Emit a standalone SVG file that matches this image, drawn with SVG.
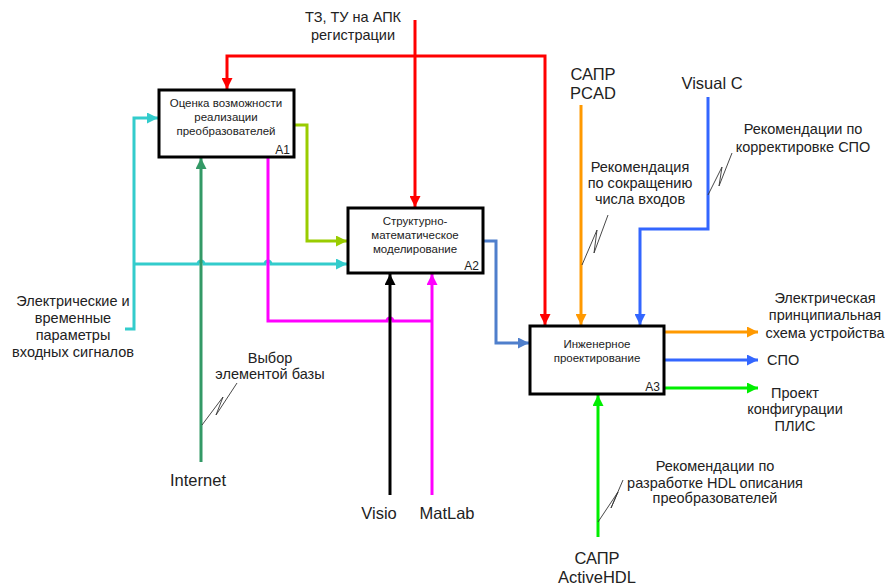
<svg xmlns="http://www.w3.org/2000/svg" width="885" height="588" viewBox="0 0 885 588">
<style>
text{font-family:"Liberation Sans",Arial,sans-serif;fill:#222;text-anchor:middle}
.lbl{font-size:14.5px}
.big{font-size:16.5px}
.bx{font-size:11.5px}
.num{font-size:12px;text-anchor:end}
.box{fill:#fff;stroke:#000;stroke-width:3}
.c{fill:none;stroke-width:3}
.sq{fill:none;stroke:#333;stroke-width:0.9}
</style>
<defs>
<marker id="mRed" viewBox="0 0 10 10" refX="10" refY="5" markerWidth="12" markerHeight="11" markerUnits="userSpaceOnUse" orient="auto"><path d="M0,0 L10,5 L0,10 z" fill="#ff0000"/></marker>
<marker id="mYg" viewBox="0 0 10 10" refX="10" refY="5" markerWidth="12" markerHeight="11" markerUnits="userSpaceOnUse" orient="auto"><path d="M0,0 L10,5 L0,10 z" fill="#99cc00"/></marker>
<marker id="mCy" viewBox="0 0 10 10" refX="10" refY="5" markerWidth="12" markerHeight="11" markerUnits="userSpaceOnUse" orient="auto"><path d="M0,0 L10,5 L0,10 z" fill="#33cccc"/></marker>
<marker id="mDg" viewBox="0 0 10 10" refX="10" refY="5" markerWidth="12" markerHeight="11" markerUnits="userSpaceOnUse" orient="auto"><path d="M0,0 L10,5 L0,10 z" fill="#339966"/></marker>
<marker id="mMg" viewBox="0 0 10 10" refX="10" refY="5" markerWidth="12" markerHeight="11" markerUnits="userSpaceOnUse" orient="auto"><path d="M0,0 L10,5 L0,10 z" fill="#ff00ff"/></marker>
<marker id="mBk" viewBox="0 0 10 10" refX="10" refY="5" markerWidth="12" markerHeight="11" markerUnits="userSpaceOnUse" orient="auto"><path d="M0,0 L10,5 L0,10 z" fill="#000"/></marker>
<marker id="mSb" viewBox="0 0 10 10" refX="10" refY="5" markerWidth="12" markerHeight="11" markerUnits="userSpaceOnUse" orient="auto"><path d="M0,0 L10,5 L0,10 z" fill="#4f7fcc"/></marker>
<marker id="mOr" viewBox="0 0 10 10" refX="10" refY="5" markerWidth="12" markerHeight="11" markerUnits="userSpaceOnUse" orient="auto"><path d="M0,0 L10,5 L0,10 z" fill="#ff9900"/></marker>
<marker id="mBl" viewBox="0 0 10 10" refX="10" refY="5" markerWidth="12" markerHeight="11" markerUnits="userSpaceOnUse" orient="auto"><path d="M0,0 L10,5 L0,10 z" fill="#3366ff"/></marker>
<marker id="mGr" viewBox="0 0 10 10" refX="10" refY="5" markerWidth="12" markerHeight="11" markerUnits="userSpaceOnUse" orient="auto"><path d="M0,0 L10,5 L0,10 z" fill="#00ee00"/></marker>
</defs>

<g id="connectors">
<path class="c" stroke="#ff0000" d="M415,20 V207" marker-end="url(#mRed)"/>
<path class="c" stroke="#ff0000" d="M416,56 H227 V89" marker-end="url(#mRed)"/>
<path class="c" stroke="#ff0000" d="M414,56 H545 V325" marker-end="url(#mRed)"/>
<path class="c" stroke="#99cc00" d="M294,125 H307 V241 H347" marker-end="url(#mYg)"/>
<path class="c" stroke="#33cccc" d="M125,329 H134 V118 H158" marker-end="url(#mCy)"/>
<path class="c" stroke="#33cccc" d="M134,264 H198 a3,3 0 0 1 6,0 H265 a3,3 0 0 1 6,0 H347" marker-end="url(#mCy)"/>
<path class="c" stroke="#339966" d="M201,462 V158" marker-end="url(#mDg)"/>
<path class="c" stroke="#ff00ff" d="M268,158 V321 H387 a3,3 0 0 1 6,0 H433" marker-start="url(#mMg)"/>
<path class="c" stroke="#ff00ff" d="M432,495 V274" marker-end="url(#mMg)"/>
<path class="c" stroke="#000" d="M390,495 V274" marker-end="url(#mBk)"/>
<path class="c" stroke="#4f7fcc" d="M483,241 H496 V343 H529" marker-end="url(#mSb)"/>
<path class="c" stroke="#ff9900" d="M581,105 V325" marker-end="url(#mOr)"/>
<path class="c" stroke="#3366ff" d="M708,97 V229 H640 V325" marker-end="url(#mBl)"/>
<path class="c" stroke="#ff9900" d="M664,332 H758" marker-end="url(#mOr)"/>
<path class="c" stroke="#3366ff" d="M664,360 H758" marker-end="url(#mBl)"/>
<path class="c" stroke="#00ee00" d="M664,388 H758" marker-end="url(#mGr)"/>
<path class="c" stroke="#00ee00" d="M598,537 V395" marker-end="url(#mGr)"/>
<path class="sq" d="M582,265 L597,230 L594,253 L608,215"/>
<path class="sq" d="M708,195 L722,167 L719,186 L732,153"/>
<path class="sq" d="M202,425 L223,397 L216,415 L237,383"/>
<path class="sq" d="M598,522 L618,492 L611,508 L623,480"/>
</g>

<g id="A1">
<rect class="box" x="159" y="90" width="135" height="67"/>
<text class="bx" x="226" y="107">Оценка возможности</text>
<text class="bx" x="226" y="121">реализации</text>
<text class="bx" x="226" y="135">преобразователей</text>
<text class="num" x="290" y="154">A1</text>
</g>
<g id="A2">
<rect class="box" x="348" y="208" width="135" height="65"/>
<text class="bx" x="415" y="225">Структурно-</text>
<text class="bx" x="415" y="239">математическое</text>
<text class="bx" x="415" y="253">моделирование</text>
<text class="num" x="479" y="270">A2</text>
</g>
<g id="A3">
<rect class="box" x="530" y="326" width="134" height="68"/>
<text class="bx" x="597" y="348">Инженерное</text>
<text class="bx" x="597" y="362">проектирование</text>
<text class="num" x="660" y="391">A3</text>
</g>

<g id="labels">
<text class="lbl" x="353" y="22">ТЗ, ТУ на АПК</text>
<text class="lbl" x="353" y="40">регистрации</text>
<text class="big" x="593" y="80">САПР</text>
<text class="big" x="593" y="99">PCAD</text>
<text class="big" x="712" y="89">Visual C</text>
<text class="lbl" x="803" y="134">Рекомендации по</text>
<text class="lbl" x="803" y="152">корректировке СПО</text>
<text class="lbl" x="640" y="172">Рекомендация</text>
<text class="lbl" x="640" y="188">по сокращению</text>
<text class="lbl" x="640" y="204">числа входов</text>
<text class="lbl" x="73" y="306">Электрические и</text>
<text class="lbl" x="73" y="323">временные</text>
<text class="lbl" x="73" y="340">параметры</text>
<text class="lbl" x="73" y="357">входных сигналов</text>
<text class="lbl" x="270" y="363">Выбор</text>
<text class="lbl" x="270" y="379">элементой базы</text>
<text class="big" x="198" y="486">Internet</text>
<text class="big" x="379" y="519">Visio</text>
<text class="big" x="447" y="519">MatLab</text>
<text class="lbl" x="825" y="303">Электрическая</text>
<text class="lbl" x="825" y="320">принципиальная</text>
<text class="lbl" x="825" y="338">схема устройства</text>
<text class="lbl" x="767" y="365" style="text-anchor:start">СПО</text>
<text class="lbl" x="795" y="398">Проект</text>
<text class="lbl" x="795" y="414">конфигурации</text>
<text class="lbl" x="795" y="431">ПЛИС</text>
<text class="lbl" x="715" y="471">Рекомендации по</text>
<text class="lbl" x="715" y="488">разработке HDL описания</text>
<text class="lbl" x="715" y="503">преобразователей</text>
<text class="big" x="597" y="564">САПР</text>
<text class="big" x="597" y="583">ActiveHDL</text>
</g>
</svg>
